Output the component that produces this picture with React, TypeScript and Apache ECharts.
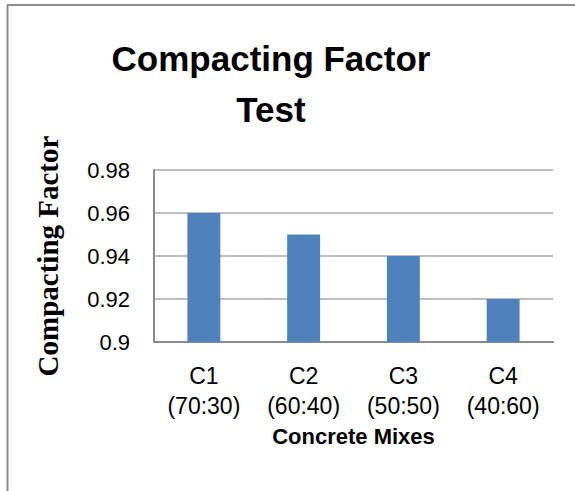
import React, { useEffect, useRef } from "react";
import * as echarts from "echarts";

const categories = ["C1\n(70:30)", "C2\n(60:40)", "C3\n(50:50)", "C4\n(40:60)"];
const values = [0.96, 0.95, 0.94, 0.92];
const yMin = 0.9;
const yMax = 0.98;
const yStep = 0.02;

export default function App() {
  const ref = useRef<HTMLDivElement>(null);
  useEffect(() => {
    if (!ref.current) return;
    const chart = echarts.init(ref.current, null, { renderer: "svg" });
    chart.setOption({
      animation: false,
      backgroundColor: "#ffffff",
      title: {
        text: "Compacting Factor\nTest",
        left: 266,
        textAlign: "center",
        top: 28,
        textStyle: {
          fontFamily: "'Liberation Sans', Arial, sans-serif",
          fontWeight: "bold",
          fontSize: 35,
          lineHeight: 51,
          color: "#000",
        },
      },
      graphic: [
        { type: "line", shape: { x1: 7.5, y1: 5, x2: 7.5, y2: 491 }, style: { stroke: "#8c8c8c", lineWidth: 2 } },
        { type: "line", shape: { x1: 7, y1: 5, x2: 575, y2: 5 }, style: { stroke: "#8c8c8c", lineWidth: 2 } },
      ],
      grid: { left: 154, right: 22, top: 170, bottom: 149 },
      xAxis: {
        type: "category",
        data: categories,
        name: "Concrete Mixes",
        nameLocation: "middle",
        nameGap: 83,
        nameTextStyle: {
          fontFamily: "'Liberation Sans', Arial, sans-serif",
          fontWeight: "bold",
          fontSize: 22,
          color: "#000",
        },
        axisLine: { show: true, lineStyle: { color: "#8a8a8a", width: 2 } },
        axisTick: { show: false },
        axisLabel: {
          interval: 0,
          margin: 19,
          fontFamily: "'Liberation Sans', Arial, sans-serif",
          fontSize: 23,
          lineHeight: 30,
          color: "#000",
        },
      },
      yAxis: {
        type: "value",
        min: yMin,
        max: yMax,
        interval: yStep,
        name: "Compacting Factor",
        nameLocation: "middle",
        nameRotate: 90,
        nameGap: 92,
        nameTextStyle: {
          fontFamily: "'Liberation Serif', 'Times New Roman', serif",
          fontWeight: "bold",
          fontSize: 29,
          color: "#000",
        },
        axisLine: { show: true, lineStyle: { color: "#8a8a8a", width: 2 } },
        axisTick: { show: false },
        splitLine: { show: true, lineStyle: { color: "#a8a8a8", width: 1.5 } },
        axisLabel: {
          margin: 24,
          fontFamily: "'Liberation Sans', Arial, sans-serif",
          fontSize: 22,
          color: "#000",
          formatter: (v: number) => String(parseFloat(v.toFixed(2))),
        },
      },
      series: [
        {
          type: "bar",
          data: values,
          barWidth: "33%",
          itemStyle: { color: "#4F81BD" },
        },
      ],
    });
    return () => chart.dispose();
  }, []);
  return (
    <div
      ref={ref}
      style={{ position: "fixed", left: 0, top: 0, width: 575, height: 491 }}
    />
  );
}
